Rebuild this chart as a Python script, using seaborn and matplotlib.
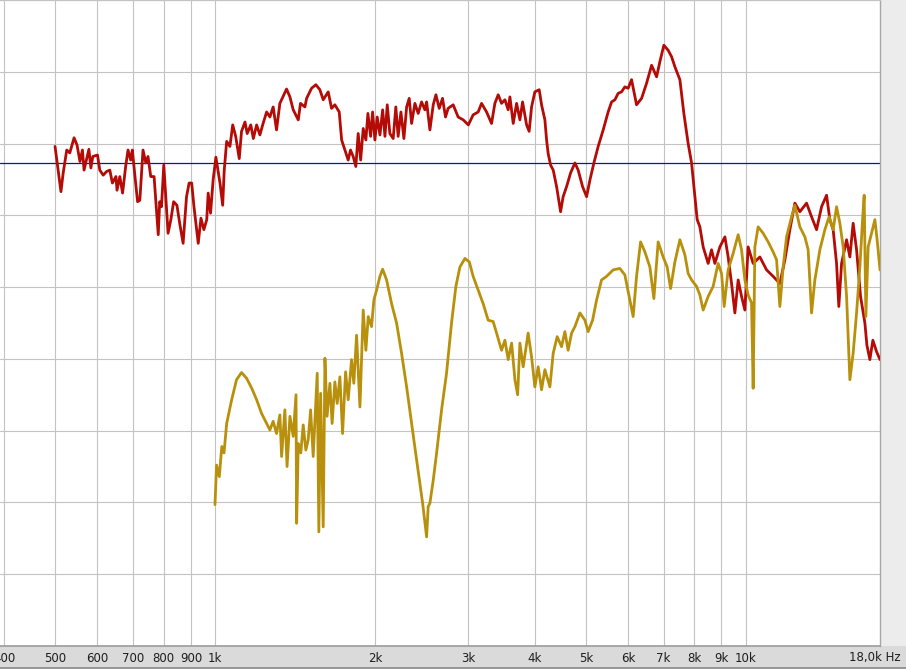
import matplotlib
matplotlib.use("Agg")
import matplotlib.pyplot as plt
from matplotlib.patches import Rectangle
from matplotlib.lines import Line2D
from matplotlib.ticker import NullLocator
import pandas as pd
import seaborn as sns

# Measured response (red) and second response (gold), Hz / dB
red_hz = [499, 512, 517, 525, 532, 542, 549, 556, 562, 566, 578, 583, 588, 600,
          606, 615, 624, 633, 640, 650, 653, 661, 669, 678, 685, 693, 698, 706, 714, 721,
          731, 740, 747, 756, 767, 781, 786, 792, 800, 807, 815, 825, 835, 847, 858,
          870, 883, 893, 903, 912, 929, 940, 952, 964, 970, 980, 991,
          1003, 1021, 1033, 1040, 1051, 1066, 1079, 1093, 1110, 1121, 1138, 1149, 1167,
          1180, 1197, 1214, 1231, 1250, 1268, 1286, 1305, 1324,
          1363, 1383, 1403, 1434, 1448, 1476, 1487, 1519, 1548, 1575, 1598, 1633, 1657,
          1681, 1713, 1731, 1756, 1781, 1799, 1820, 1841, 1860, 1880, 1901, 1923, 1940,
          1963, 1980, 2000, 2020, 2044, 2068, 2089, 2110, 2134, 2165, 2190, 2212, 2239,
          2268, 2295, 2321, 2345, 2379, 2413, 2449, 2484, 2503, 2539, 2576, 2606, 2644,
          2682, 2717, 2748, 2809, 2870, 2934, 3000, 3063, 3131, 3177, 3247, 3318, 3366,
          3415, 3465, 3516, 3566, 3593, 3645, 3699, 3752, 3796, 3863, 3906, 3947, 4004,
          4080, 4122, 4182, 4213, 4242, 4287, 4336, 4400, 4477, 4527, 4595, 4675, 4764,
          4832, 4925, 5012, 5084, 5173, 5270, 5386, 5503, 5586, 5667, 5748, 5833, 5917,
          6002, 6092, 6225, 6363, 6502, 6645, 6791, 6888, 7009, 7140, 7247, 7352, 7513,
          7644, 7788, 7904, 8019, 8099, 8194, 8312, 8494, 8620, 8745, 8937, 9134, 9264,
          9402, 9538, 9675, 9819, 9961, 10104, 10326, 10631, 10945, 11262, 11595, 11850,
          12109, 12375, 12646, 13019, 13305, 13597, 13895, 14200, 14405, 14612, 14830,
          14975, 15155, 15488, 15711, 15937, 16174, 16457, 16769, 16917, 17136, 17360,
          17642, 17906]
red_db = [-20.4, -26.7, -24.1, -20.9, -21.3, -19.2, -20.2, -22.5, -20.9, -23.7, -20.8, -23.4, -21.8, -21.6,
          -23.7, -24.4, -23.9, -23.7, -25.5, -24.6, -26.5, -24.6, -26.9, -23.2, -20.9, -22.3, -20.9, -24.6, -28.1, -27.9,
          -20.9, -22.7, -21.8, -24.6, -24.6, -32.7, -28.1, -28.8, -23.0, -27.4, -32.5, -30.6, -28.1, -28.6, -31.3,
          -33.9, -27.4, -25.5, -25.5, -28.8, -33.9, -30.4, -32.0, -30.6, -26.9, -29.7, -25.1,
          -21.9, -25.5, -28.6, -23.7, -19.7, -20.4, -17.4, -19.0, -22.1, -18.3, -17.0, -18.6, -17.4,
          -19.3, -17.4, -18.8, -17.2, -15.6, -16.3, -14.9, -18.1, -14.4,
          -12.4, -13.5, -15.3, -16.7, -14.4, -14.9, -13.7, -12.3, -11.8, -12.5, -13.9, -12.8, -15.1,
          -14.6, -15.6, -19.5, -20.9, -22.3, -20.9, -21.8, -23.2, -18.6, -22.3, -17.9, -19.5, -15.8,
          -19.0, -15.6, -19.5, -16.3, -18.8, -15.3, -19.0, -14.6, -18.6, -19.3, -14.9, -19.0, -15.6,
          -19.3, -14.9, -13.7, -17.2, -14.4, -15.8, -14.2, -15.3, -14.2, -18.1, -14.6, -13.2, -15.1,
          -13.7, -16.3, -15.1, -14.6, -16.3, -16.7, -17.4, -16.0, -15.6, -14.4, -15.6, -17.2, -14.4,
          -13.2, -14.4, -13.9, -15.3, -13.5, -17.2, -14.4, -16.7, -14.2, -17.4, -18.3, -14.9, -12.8,
          -12.5, -14.6, -16.7, -19.5, -21.4, -23.0, -23.7, -26.0, -29.5, -27.4, -26.0, -24.1, -22.7,
          -23.7, -26.0, -27.4, -25.1, -22.7, -20.4, -18.1, -15.6, -14.2, -13.9, -13.0, -12.8, -12.1,
          -12.3, -11.1, -14.6, -13.7, -11.6, -9.1, -10.7, -8.6, -6.3, -7.0, -7.9, -9.3, -11.1,
          -15.8, -20.0, -22.7, -27.4, -30.6, -31.6, -34.4, -36.7, -34.8, -36.7, -34.4, -33.0, -35.8,
          -39.5, -43.6, -39.0, -41.3, -43.2, -34.4, -36.7, -35.8, -37.6, -38.5, -39.5, -36.2,
          -32.0, -28.3, -29.5, -28.3, -30.2, -32.0, -28.8, -27.2, -30.6, -32.0, -36.7,
          -42.7, -36.7, -33.4, -35.8, -31.1, -34.8, -41.3, -45.0, -48.1, -50.1, -47.4,
          -49.0, -50.1]

gold_hz = [999, 1006, 1018, 1029, 1039, 1051, 1074, 1097, 1121, 1146, 1172, 1197, 1223, 1250,
           1268, 1286, 1305, 1324, 1334, 1353, 1366, 1383, 1403, 1420, 1424, 1434, 1450, 1465,
           1482, 1497, 1513, 1530, 1548, 1557, 1568, 1580, 1598, 1610, 1625, 1645, 1661, 1681,
           1698, 1718, 1738, 1761, 1781, 1807, 1825, 1847, 1874, 1901, 1923, 1943, 1971, 1991,
           2015, 2044, 2068, 2104, 2150, 2197, 2245, 2295, 2345, 2397, 2431, 2460, 2485, 2503,
           2520, 2539, 2576, 2614, 2671, 2729, 2789, 2842, 2892, 2956, 3013, 3063, 3131, 3199,
           3269, 3341, 3391, 3465, 3516, 3566, 3620, 3672, 3716, 3752, 3806, 3889, 3947, 4004,
           4062, 4122, 4182, 4274, 4336, 4411, 4496, 4561, 4626, 4696, 4764, 4868, 4975, 5046,
           5144, 5234, 5348, 5466, 5625, 5790, 5917, 6047, 6134, 6225, 6335, 6455, 6596, 6711,
           6837, 6987, 7110, 7216, 7352, 7513, 7678, 7788, 7904, 8077, 8194, 8312, 8494, 8680,
           8870, 9003, 9105, 9264, 9467, 9675, 9819, 9961, 10104, 10254, 10326, 10403, 10551,
           10784, 11020, 11262, 11430, 11595, 11762, 11937, 12199, 12375, 12646, 12924, 13109,
           13305, 13497, 13793, 14096, 14358, 14612, 14830, 15044, 15261, 15488, 15711, 15937,
           16174, 16408, 16602, 16717, 16841, 17009, 17263, 17513, 17684, 17906]
gold_db = [-70.3, -64.8, -66.4, -62.2, -63.1, -59.0, -55.7, -52.9, -51.9, -52.7, -54.1, -55.7, -57.6, -59.0,
           -59.9, -58.7, -60.4, -57.8, -63.6, -57.1, -65.0, -58.0, -60.8, -55.0, -72.9, -61.8, -63.1, -59.2,
           -62.7, -61.3, -57.1, -63.6, -55.7, -52.0, -74.1, -54.8, -73.4, -49.9, -58.0, -53.4, -59.0, -53.2,
           -56.2, -52.5, -60.4, -51.8, -55.7, -50.1, -53.4, -46.7, -56.7, -43.2, -48.8, -44.1, -45.5, -41.8,
           -40.4, -38.5, -37.5, -39.0, -42.3, -45.0, -49.2, -53.9, -59.0, -64.1, -67.3, -70.1, -72.9, -74.8,
           -70.6, -70.1, -66.9, -63.1, -57.1, -52.0, -45.0, -39.9, -37.2, -36.0, -36.5, -38.5, -40.4, -42.3,
           -44.6, -44.8, -46.4, -48.8, -47.4, -50.1, -47.8, -52.9, -55.0, -47.8, -51.1, -46.4, -49.7, -53.9,
           -51.1, -54.3, -51.5, -53.9, -49.2, -46.9, -48.3, -46.2, -48.8, -46.4, -45.5, -43.6, -44.6, -46.2,
           -44.6, -41.8, -39.0, -38.5, -37.6, -37.4, -38.3, -41.8, -44.1, -38.5, -33.7, -35.1, -37.2, -41.6,
           -33.7, -35.8, -37.2, -40.2, -36.5, -33.4, -35.5, -38.1, -39.0, -39.9, -41.1, -43.2, -41.3, -39.9,
           -36.7, -38.1, -42.7, -37.6, -35.3, -32.7, -34.8, -39.0, -41.1, -42.2, -54.1, -34.4, -31.6,
           -32.5, -33.7, -35.1, -36.2, -42.7, -37.2, -33.0, -30.2, -28.6, -31.6, -33.0, -34.8,
           -43.6, -39.0, -34.8, -32.0, -30.2, -32.0, -28.8, -31.1, -34.4, -41.3, -52.9, -49.2,
           -43.6, -37.2, -30.6, -27.2, -44.1, -34.4, -32.5, -30.6, -33.4, -37.6]

ref_db = -22.7
tick_hz = [400, 500, 600, 700, 800, 900, 1000, 2000, 3000, 4000, 5000, 6000, 7000, 8000, 9000, 10000]
tick_labels = ["400", "500", "600", "700", "800", "900", "1k", "2k", "3k", "4k", "5k", "6k", "7k",
               "8k", "9k", "10k"]

RED = "#b40b06"
GOLD = "#b8900b"
NAVY = "#12129c"

sns.set_style("white")
plt.rcParams['font.family'] = ['DejaVu Sans']

W, H = 906, 669
fig = plt.figure(figsize=(W / 100, H / 100), dpi=100, facecolor="#ececec")

# grey footer strip under the plot (drawn behind the axes so tick labels stay on top)
fig.patches.append(Rectangle((0, 0), 1, 23 / H, transform=fig.transFigure,
                             facecolor="#dadada", edgecolor="none", zorder=-2))
fig.lines.append(Line2D([0, 1], [1.5 / H, 1.5 / H], transform=fig.transFigure,
                        color="#8a8a8a", linewidth=1.2, zorder=-1))

ax = fig.add_axes([0, 23 / H, 880 / W, 646 / H])
ax.set_facecolor("white")

red_df = pd.DataFrame({"freq": red_hz, "level": red_db})
gold_df = pd.DataFrame({"freq": gold_hz, "level": gold_db})

ax.axhline(ref_db, color=NAVY, linewidth=0.9, zorder=2)
sns.lineplot(data=red_df, x="freq", y="level", ax=ax, color=RED, linewidth=2.0,
             sort=False, estimator=None, zorder=3)
sns.lineplot(data=gold_df, x="freq", y="level", ax=ax, color=GOLD, linewidth=2.0,
             sort=False, estimator=None, zorder=4)

ax.set_xscale("log")
ax.set_xlim(393, 17906)
ax.set_ylim(-90, 0)
ax.set_xticks(tick_hz)
ax.set_xticklabels(tick_labels)
ax.xaxis.set_minor_locator(NullLocator())
ax.set_yticks(range(-90, 1, 10))
ax.set_yticklabels([])
ax.tick_params(axis="both", length=0)
ax.tick_params(axis="x", pad=4.2, labelsize=8.5, labelcolor="#1e1e1e")
ax.grid(True, color="#c3c3c3", linewidth=0.8)
ax.set_axisbelow(True)
ax.set_xlabel("")
ax.set_ylabel("")

ax.spines["left"].set_visible(False)
ax.spines["top"].set_color("#c3c3c3")
ax.spines["top"].set_linewidth(0.8)
ax.spines["right"].set_color("#a6a6a6")
ax.spines["right"].set_linewidth(1.0)
ax.spines["bottom"].set_color("#9c9c9c")
ax.spines["bottom"].set_linewidth(1.2)

fig.text(901 / W, (H - 657) / H, "18,0k Hz", ha="right", va="center", fontsize=8.5,
         color="#1e1e1e")

fig.savefig("out.png", dpi=100, facecolor=fig.get_facecolor())
